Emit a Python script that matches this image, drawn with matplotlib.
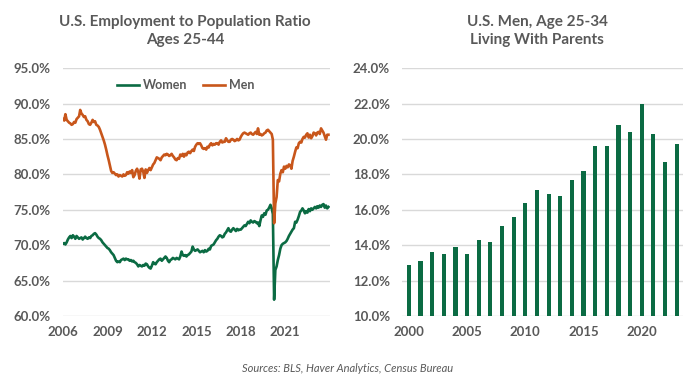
import matplotlib
matplotlib.use("Agg")
import matplotlib.pyplot as plt
import matplotlib.dates as mdates
from matplotlib.ticker import FuncFormatter
import numpy as np
import pandas as pd

# employment to population ratio, ages 25-44, monthly Jan 2006 - Dec 2023 (%)
men = [
    87.8, 87.6, 88.5, 87.7, 87.5, 87.3, 87.2, 87.0, 87.1, 87.4, 87.3, 87.8,  # 2006
    88.0, 88.2, 89.1, 88.6, 88.4, 88.1, 88.2, 87.7, 87.5, 87.1, 87.0, 87.3,  # 2007
    87.7, 87.4, 87.5, 87.0, 86.9, 86.7, 86.3, 85.8, 85.3, 84.8, 84.2, 83.5,  # 2008
    82.7, 82.0, 81.3, 80.5, 80.2, 80.3, 80.1, 79.9, 80.0, 79.7, 79.9, 79.8,  # 2009
    79.7, 80.0, 79.8, 79.9, 80.3, 80.1, 80.4, 80.2, 80.6, 79.6, 79.9, 80.5,  # 2010
    80.8, 80.3, 79.4, 80.7, 80.8, 80.4, 79.5, 80.7, 80.2, 80.6, 80.9, 80.6,  # 2011
    81.0, 81.4, 81.6, 82.0, 82.4, 82.3, 82.2, 82.0, 82.4, 82.6, 82.8, 82.7,  # 2012
    82.9, 82.8, 82.6, 82.7, 82.9, 82.6, 82.4, 82.1, 82.0, 82.3, 82.2, 82.8,  # 2013
    82.6, 82.9, 82.5, 82.9, 82.7, 83.1, 83.2, 83.0, 83.3, 83.5, 83.3, 83.9,  # 2014
    84.2, 84.4, 84.3, 84.4, 84.1, 83.7, 83.6, 83.7, 83.5, 83.9, 83.8, 84.2,  # 2015
    84.4, 84.1, 84.3, 84.2, 84.4, 84.4, 84.2, 84.6, 84.8, 84.5, 84.6, 84.6,  # 2016
    85.1, 84.8, 84.6, 84.6, 84.9, 85.0, 84.9, 84.7, 84.8, 85.0, 84.8, 84.9,  # 2017
    85.3, 85.6, 85.8, 85.9, 85.8, 85.7, 85.6, 85.8, 85.9, 85.7, 85.6, 85.8,  # 2018
    86.0, 85.7, 86.5, 85.6, 85.7, 85.5, 85.6, 85.8, 85.9, 86.2, 86.3, 86.1,  # 2019
    85.9, 85.7, 84.9, 73.1, 75.9, 76.8, 79.2, 79.0, 80.1, 80.6, 80.3, 81.1,  # 2020
    80.8, 81.2, 81.0, 81.4, 81.3, 80.8, 81.9, 82.5, 83.2, 83.8, 83.7, 84.4,  # 2021
    84.6, 84.5, 85.0, 85.3, 85.2, 85.6, 85.8, 85.2, 85.6, 85.1, 85.4, 85.9,  # 2022
    85.8, 85.5, 85.9, 86.0, 85.7, 86.5, 86.2, 85.9, 85.4, 84.9, 85.6, 85.6,  # 2023
]
women = [
    70.2, 70.3, 70.1, 70.4, 70.8, 71.1, 71.3, 71.0, 71.4, 71.2, 70.9, 71.3,  # 2006
    71.1, 70.9, 71.0, 71.1, 70.8, 71.0, 71.2, 71.0, 70.9, 71.1, 71.0, 71.3,  # 2007
    71.4, 71.6, 71.7, 71.5, 71.2, 71.0, 70.9, 70.7, 70.4, 70.2, 70.0, 69.8,  # 2008
    69.6, 69.5, 69.3, 69.0, 68.8, 68.6, 68.2, 67.8, 67.6, 67.7, 67.6, 67.9,  # 2009
    68.0, 68.1, 67.9, 68.1, 68.0, 68.0, 67.8, 67.9, 67.7, 67.8, 67.6, 67.5,  # 2010
    67.3, 67.0, 67.2, 67.1, 67.0, 67.2, 67.1, 67.4, 67.3, 67.0, 66.8, 66.7,  # 2011
    67.1, 67.6, 67.4, 67.3, 67.6, 67.8, 68.0, 68.1, 67.8, 68.0, 68.2, 68.4,  # 2012
    68.2, 67.8, 67.6, 67.9, 68.0, 68.2, 68.1, 68.0, 68.2, 68.1, 68.0, 68.4,  # 2013
    69.1, 68.6, 68.5, 68.6, 68.4, 68.6, 68.7, 68.9, 69.1, 69.8, 69.4, 69.2,  # 2014
    69.3, 69.4, 69.2, 69.0, 69.1, 69.2, 69.0, 69.3, 69.1, 69.2, 69.5, 69.4,  # 2015
    69.9, 70.0, 70.1, 70.4, 70.7, 70.9, 71.2, 71.4, 71.3, 71.1, 71.2, 71.6,  # 2016
    71.8, 72.1, 72.4, 72.0, 71.9, 72.2, 72.4, 72.2, 72.0, 72.3, 72.1, 72.2,  # 2017
    72.2, 72.4, 72.6, 72.8, 72.7, 73.0, 73.3, 73.1, 73.5, 73.3, 73.2, 73.4,  # 2018
    73.3, 73.1, 73.2, 72.7, 73.5, 74.2, 74.0, 74.5, 74.3, 74.9, 75.0, 75.3,  # 2019
    75.7, 75.2, 74.4, 62.3, 66.5, 67.0, 67.9, 68.6, 69.5, 70.0, 70.2, 70.3,  # 2020
    70.4, 70.6, 70.9, 71.3, 71.6, 71.9, 72.2, 72.4, 73.3, 73.2, 73.6, 74.1,  # 2021
    74.7, 74.9, 75.2, 74.9, 74.5, 74.8, 74.6, 75.1, 74.8, 75.2, 75.0, 75.2,  # 2022
    75.4, 75.2, 75.5, 75.3, 75.6, 75.4, 75.7, 75.8, 75.3, 75.6, 75.2, 75.4,  # 2023
]
months = pd.date_range("2006-01-01", periods=len(men), freq="MS")

# share of U.S. men age 25-34 living with parents (%)
years = list(range(2000, 2024))
living = [12.9, 13.1, 13.6, 13.5, 13.9, 13.5, 14.3, 14.2, 15.1, 15.6, 16.4, 17.1,
          16.9, 16.8, 17.7, 18.2, 19.6, 19.6, 20.8, 20.4, 22.0, 20.3, 18.7, 19.7]

green = "#0B6B43"
orange = "#C8561B"
gray = "#595959"
gridc = "#D9D9D9"

plt.rcParams["font.family"] = ["Lato", "DejaVu Sans"]

fig = plt.figure(figsize=(7, 3.83), dpi=100)
ax1 = fig.add_axes([0.09, 0.175, 0.381, 0.647])
ax2 = fig.add_axes([0.575, 0.175, 0.40, 0.647])

pct = FuncFormatter(lambda v, p: f"{v:.1f}%")

for ax in (ax1, ax2):
    for s in ax.spines.values():
        s.set_visible(False)
    ax.grid(axis="y", color=gridc, lw=1)
    ax.set_axisbelow(True)
    ax.tick_params(length=0, colors=gray, labelsize=9.5)
    ax.tick_params(axis="y", pad=9)
    ax.tick_params(axis="x", pad=7)
    ax.yaxis.set_major_formatter(pct)

# left: employment ratio
ax1.plot(months, women, color=green, lw=1.9, label="Women")
ax1.plot(months, men, color=orange, lw=1.9, label="Men")
ax1.set_ylim(60, 95)
ax1.set_yticks(np.arange(60, 96, 5))
ax1.set_xlim(pd.Timestamp("2006-01-01"), pd.Timestamp("2024-01-01"))
ax1.set_xticks([pd.Timestamp(f"{y}-01-01") for y in range(2006, 2022, 3)])
ax1.xaxis.set_major_formatter(mdates.DateFormatter("%Y"))
leg = ax1.legend(loc="upper center", bbox_to_anchor=(0.46, 1.0), ncol=2, frameon=False,
                 handlelength=1.8, handletextpad=0.3, columnspacing=1.2,
                 prop={"weight": "bold", "size": 9})
for t in leg.get_texts():
    t.set_color(gray)

# right: living with parents
ax2.bar(years, living, width=0.36, color=green)
ax2.set_ylim(10, 24)
ax2.set_yticks(np.arange(10, 25, 2))
ax2.set_xlim(years[0] - 0.55, years[-1] + 0.5)
ax2.set_xticks(range(2000, 2024, 5))

for ax in (ax1, ax2):
    for lab in ax.get_xticklabels() + ax.get_yticklabels():
        lab.set_fontweight("bold")

fig.text(185 / 700, 1 - 31 / 383, "U.S. Employment to Population Ratio\nAges 25-44",
         ha="center", va="center", fontsize=11, fontweight="bold", color=gray,
         linespacing=1.45)
fig.text(537 / 700, 1 - 31 / 383, "U.S. Men, Age 25-34\nLiving With Parents",
         ha="center", va="center", fontsize=11, fontweight="bold", color=gray,
         linespacing=1.45)
fig.text(348 / 700, 1 - 368 / 383, "Sources: BLS, Haver Analytics, Census Bureau",
         ha="center", va="center", fontsize=8, style="italic", color=gray)

fig.savefig("out.png", dpi=100)
